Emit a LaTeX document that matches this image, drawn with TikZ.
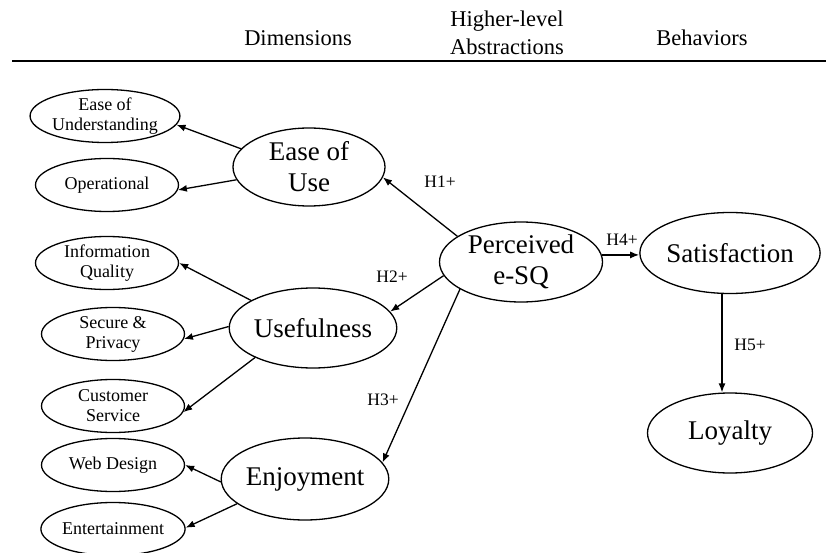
\documentclass[tikz,border=0pt]{standalone}
\usepackage{fontspec}
\setmainfont{Liberation Serif}
\usepackage{tikz}
\usetikzlibrary{shapes.geometric,arrows.meta}

\begin{document}
\begin{tikzpicture}[x=1pt, y=-1pt,
        dim/.style={draw, ellipse, line width=1.3pt, inner sep=0pt, minimum width=143pt, minimum height=53pt, align=center, font=\fontsize{18}{20}\selectfont},
        con/.style={draw, ellipse, line width=1.3pt, inner sep=0pt, minimum width=152pt, minimum height=78pt, align=center, font=\fontsize{27}{31}\selectfont},
        hyp/.style={font=\fontsize{17.5}{20}\selectfont},
        head/.style={align=center, font=\fontsize{22.5}{28}\selectfont},
        arr/.style={-{Latex[length=9pt,width=7pt]}, line width=1.3pt}]
        \useasboundingbox (0,0) rectangle (826,553);

        % Headers
        \node[head] (hdim) at (298,38) {Dimensions};
        \node[head] (habs) at (507,33) {Higher-level\\Abstractions};
        \node[head] (hbeh) at (702,38) {Behaviors};
        \coordinate (rulel) at (12,61);
        \coordinate (ruler) at (826,61);
        \draw[line width=1.4pt] (rulel) -- (ruler);

        % Dimensions
        \node[dim] (eun) at (105,116) {Ease of\\Understanding};
        \node[dim] (op) at (107,185) {Operational};
        \node[dim] (iq) at (107,263) {Information\\Quality};
        \node[dim] (sp) at (113,334) {Secure \&\\Privacy};
        \node[dim] (cs) at (113,406) {Customer\\Service};
        \node[dim] (wd) at (113,465) {Web Design};
        \node[dim] (ent) at (113,529) {Entertainment};

        % Higher-level constructs
        \node[con] (eou) at (309,167) {Ease of\\Use};
        \node[con, minimum width=150pt, minimum height=80pt] (use) at (313,328) {Usefulness};
        \node[con, minimum width=149pt, minimum height=82pt] (enj) at (305,479) {Enjoyment};
        \node[con, minimum width=163pt, minimum height=80pt] (pesq) at (521,262) {Perceived\\e-SQ};

        % Behaviors
        \node[con, minimum width=165pt, minimum height=81pt] (sat) at (730,253) {Satisfaction};
        \node[con, minimum width=165pt, minimum height=80pt] (loy) at (730,433) {Loyalty};

        % Dimension arrows
        \draw[arr] (eou.165) -- (eun.353);
        \draw[arr] (eou.190) -- (op.356);
        \draw[arr] (use.156) -- (iq.0);
        \draw[arr] (use.179) -- (sp.356);
        \draw[arr] (use.207) -- (cs.355);
        \draw[arr] (enj.182) -- (wd.0);
        \draw[arr] (enj.200) -- (ent.1);

        % Hypotheses
        \draw[arr] (pesq.158) -- (eou.352);
        \draw[arr] (pesq.190) -- (use.12);
        \draw[arr] (pesq.204) -- (enj.12);
        \draw[arr] (pesq.5) -- (sat.west |- pesq.5);
        \draw[arr] ([xshift=-8pt]sat.south) -- ([xshift=-8pt]loy.north);

        \node[hyp] (h1) at (440,182) {H1+};
        \node[hyp] (h2) at (392,277) {H2+};
        \node[hyp] (h3) at (383,400) {H3+};
        \node[hyp] (h4) at (622,240) {H4+};
        \node[hyp] (h5) at (750,345) {H5+};
    \end{tikzpicture}
\end{document}
